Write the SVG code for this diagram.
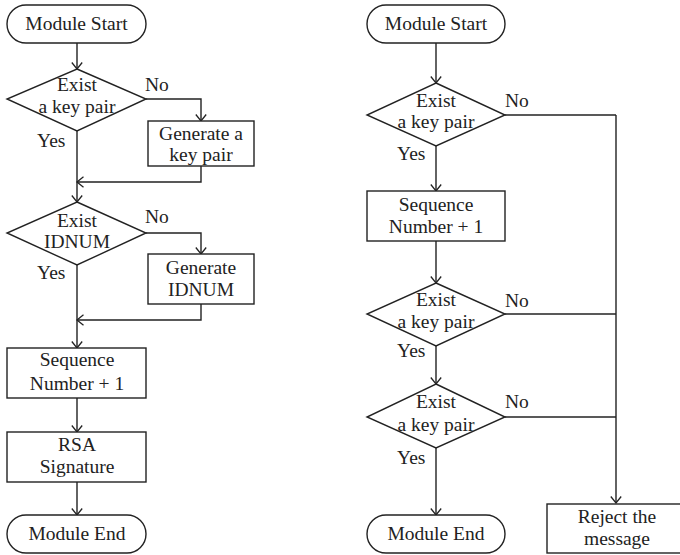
<svg xmlns="http://www.w3.org/2000/svg" width="680" height="555" viewBox="0 0 680 555">
  <style>
    .shape { fill: #ffffff; stroke: #222222; stroke-width: 1.4; }
    .wire { fill: none; stroke: #222222; stroke-width: 1.4; }
    .arrow { fill: none; stroke: #222222; stroke-width: 1.4; marker-end: url(#head); }
    text { font-family: "Liberation Serif", "Times New Roman", serif; font-size: 19.5px; fill: #222222; }
    .c { text-anchor: middle; }
  </style>
  <defs>
    <marker id="head" markerUnits="userSpaceOnUse" markerWidth="10" markerHeight="12" viewBox="0 0 8 12" refX="7" refY="6" orient="auto">
      <path d="M0.5,0.8 L7,6 L0.5,11.2" fill="none" stroke="#222222" stroke-width="1.3"/>
    </marker>
  </defs>

  <!-- connectors -->
  <g id="connectors">
    <!-- left flow -->
    <line class="arrow" x1="77" y1="43" x2="77" y2="69"/>
    <polyline class="arrow" points="146,99 201,99 201,121"/>
    <line class="arrow" x1="77" y1="131" x2="77" y2="202"/>
    <polyline class="arrow" points="201,166 201,182 77,182"/>
    <polyline class="arrow" points="146,233 201,233 201,254"/>
    <line class="arrow" x1="77" y1="265" x2="77" y2="348"/>
    <polyline class="arrow" points="201,304 201,320 77,320"/>
    <line class="arrow" x1="77" y1="398" x2="77" y2="432"/>
    <line class="arrow" x1="77" y1="482" x2="77" y2="515"/>
    <!-- right flow -->
    <line class="arrow" x1="436" y1="43" x2="436" y2="83"/>
    <line class="arrow" x1="436" y1="146" x2="436" y2="191"/>
    <line class="arrow" x1="436" y1="241" x2="436" y2="283"/>
    <line class="arrow" x1="436" y1="346" x2="436" y2="384"/>
    <line class="arrow" x1="436" y1="448" x2="436" y2="515"/>
    <line class="wire" x1="505" y1="115" x2="616" y2="115"/>
    <line class="wire" x1="505" y1="314" x2="616" y2="314"/>
    <line class="wire" x1="505" y1="417" x2="616" y2="417"/>
    <line class="arrow" x1="616" y1="115" x2="616" y2="503"/>
  </g>

  <!-- left column nodes -->
  <g id="l-start">
    <rect class="shape" x="7" y="5" width="139" height="38" rx="19" ry="19"/>
    <text class="c" x="76.5" y="30">Module Start</text>
  </g>
  <g id="l-keypair">
    <polygon class="shape" points="77,69 146,99 77,131 7,99"/>
    <text class="c" x="77" y="91">Exist</text>
    <text class="c" x="77" y="113">a key pair</text>
    <text x="145" y="91">No</text>
    <text x="37" y="147">Yes</text>
  </g>
  <g id="l-genkey">
    <rect class="shape" x="148" y="121" width="106" height="45"/>
    <text class="c" x="201" y="140">Generate a</text>
    <text class="c" x="201" y="161">key pair</text>
  </g>
  <g id="l-idnum">
    <polygon class="shape" points="77,202 146,233 77,265 7,233"/>
    <text class="c" x="77" y="227">Exist</text>
    <text class="c" x="77" y="248">IDNUM</text>
    <text x="145" y="223">No</text>
    <text x="37" y="279">Yes</text>
  </g>
  <g id="l-genid">
    <rect class="shape" x="148" y="254" width="106" height="50"/>
    <text class="c" x="201" y="274">Generate</text>
    <text class="c" x="201" y="296">IDNUM</text>
  </g>
  <g id="l-seq">
    <rect class="shape" x="7" y="348" width="139" height="50"/>
    <text class="c" x="77" y="366">Sequence</text>
    <text class="c" x="77" y="390">Number + 1</text>
  </g>
  <g id="l-rsa">
    <rect class="shape" x="7" y="432" width="139" height="50"/>
    <text class="c" x="77" y="451">RSA</text>
    <text class="c" x="77" y="473">Signature</text>
  </g>
  <g id="l-end">
    <rect class="shape" x="7" y="515" width="139" height="38" rx="19" ry="19"/>
    <text class="c" x="77" y="540">Module End</text>
  </g>

  <!-- right column nodes -->
  <g id="r-start">
    <rect class="shape" x="367" y="5" width="138" height="38" rx="19" ry="19"/>
    <text class="c" x="436" y="30">Module Start</text>
  </g>
  <g id="r-check1">
    <polygon class="shape" points="436,83 505,115 436,146 367,115"/>
    <text class="c" x="436" y="107">Exist</text>
    <text class="c" x="436" y="128">a key pair</text>
    <text x="505" y="107">No</text>
    <text x="397" y="160">Yes</text>
  </g>
  <g id="r-seq">
    <rect class="shape" x="367" y="191" width="138" height="50"/>
    <text class="c" x="436" y="211">Sequence</text>
    <text class="c" x="436" y="233">Number + 1</text>
  </g>
  <g id="r-check2">
    <polygon class="shape" points="436,283 505,314 436,346 367,314"/>
    <text class="c" x="436" y="306">Exist</text>
    <text class="c" x="436" y="328">a key pair</text>
    <text x="505" y="307">No</text>
    <text x="397" y="357">Yes</text>
  </g>
  <g id="r-check3">
    <polygon class="shape" points="436,384 505,417 436,448 367,417"/>
    <text class="c" x="436" y="408">Exist</text>
    <text class="c" x="436" y="431">a key pair</text>
    <text x="505" y="408">No</text>
    <text x="397" y="464">Yes</text>
  </g>
  <g id="r-end">
    <rect class="shape" x="367" y="515" width="138" height="38" rx="19" ry="19"/>
    <text class="c" x="436" y="540">Module End</text>
  </g>
  <g id="r-reject">
    <rect class="shape" x="547" y="504" width="135" height="49"/>
    <text class="c" x="617" y="523">Reject the</text>
    <text class="c" x="617" y="545">message</text>
  </g>
</svg>
